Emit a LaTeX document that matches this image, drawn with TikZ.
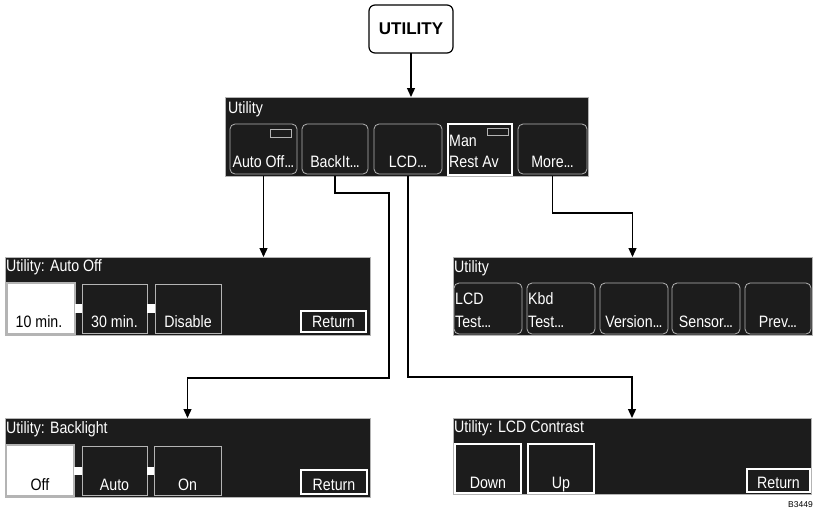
\documentclass[tikz,border=0pt]{standalone}
\usepackage{fontspec}
\setmainfont{Liberation Sans}
\newfontfamily\narrowfont[FakeStretch=0.86]{Liberation Sans}
\usetikzlibrary{arrows.meta}
\definecolor{panelbg}{HTML}{1C1C1C}
\definecolor{edgegray}{HTML}{B4B4B4}
\newcommand\bx[6]{\node[#1, anchor=north west, minimum width={(#5-#3)*1pt}, minimum height={(#6-#4)*1pt}] (#2) at (#3,#4) {};}
\newcommand\dd{.\kern-0.9pt.\kern-0.9pt.}
\tikzset{
  panelbox/.style={draw=edgegray, line width=0.8pt, fill=panelbg, rectangle, inner sep=0pt, outer sep=0pt},
  rbtn/.style={draw=edgegray, line width=0.8pt, fill=panelbg, rounded corners=5pt, rectangle, inner sep=0pt, outer sep=0pt},
  sbtn/.style={draw=edgegray, line width=0.8pt, fill=panelbg, rectangle, inner sep=0pt, outer sep=0pt},
  selbtn/.style={draw=edgegray, line width=1.2pt, fill=white, rectangle, inner sep=0pt, outer sep=0pt},
  wbtn/.style={draw=white, line width=2pt, fill=panelbg, rectangle, inner sep=0pt, outer sep=0pt},
  linkbox/.style={draw=none, fill=white, rectangle, inner sep=0pt, outer sep=0pt},
  indic/.style={draw=edgegray, line width=0.8pt, fill=panelbg, rectangle, inner sep=0pt, outer sep=0pt},
  keybox/.style={draw=black, line width=1.2pt, fill=white, rounded corners=6pt, rectangle, inner sep=0pt, outer sep=0pt},
  lbl/.style={text=white, font=\narrowfont\fontsize{16.5}{18}\selectfont, anchor=base, inner sep=0pt},
  lblw/.style={lbl, anchor=base west},
  dlbl/.style={lbl, text=black},
  conn/.style={draw=black, line width=1.3pt},
  arr/.style={conn, -{Triangle[length=9pt,width=8pt]}},
}
\begin{document}
\begin{tikzpicture}[x=1pt,y=-1pt]
\useasboundingbox (0,0) rectangle (817,509);
% key
\bx{keybox}{key}{369}{5}{453}{53}
\node[font=\bfseries\fontsize{17}{19}\selectfont, inner sep=0pt] (keytxt) at (key.center) {UTILITY};

% top menu
\bx{panelbox}{menu}{225}{97}{588}{176}
\node[lblw] (menut) at (228,113) {Utility};
\bx{rbtn}{b1}{230}{124}{297}{174}
\bx{rbtn}{b2}{302}{124}{368}{174}
\bx{rbtn}{b3}{374}{124}{442}{174}
\bx{wbtn}{b4}{448}{124}{512}{175}
\bx{rbtn}{b5}{518}{124}{587}{174}
\bx{indic}{i1}{270}{129}{291}{137}
\bx{indic}{i4}{487}{128}{508}{135}
\node[lbl] (b1t) at (263.5,167) {Auto Off\dd};
\node[lbl] (b2t) at (335,167) {BackIt\dd};
\node[lbl] (b3t) at (408,167) {LCD\dd};
\node[lblw] (b4a) at (449,146) {Man};
\node[lblw] (b4b) at (449,167) {Rest Av};
\node[lbl] (b5t) at (552.5,167) {More\dd};

% auto off panel
\bx{panelbox}{autooff}{5}{257}{370}{335}
\node[lblw] (aot) at (6,271) {Utility: Auto Off};
\bx{selbtn}{ao1}{7}{283}{75}{334}
\bx{sbtn}{ao2}{82}{284}{147}{333}
\bx{sbtn}{ao3}{155}{284}{221}{333}
\bx{linkbox}{aol1}{75}{304}{82}{313}
\bx{linkbox}{aol2}{147}{304}{155}{313}
\bx{wbtn}{aoret}{301}{311}{366}{332}
\node[dlbl] (ao1t) at (39,327) {10 min.};
\node[lbl] (ao2t) at (114.5,327) {30 min.};
\node[lbl] (ao3t) at (188,327) {Disable};
\node[lbl] (aorett) at (333.5,327) {Return};

% right utility panel
\bx{panelbox}{util}{453}{257}{812}{335}
\node[lblw] (utt) at (454,272) {Utility};
\bx{rbtn}{u1}{454}{283}{522}{334}
\bx{rbtn}{u2}{527}{283}{595}{334}
\bx{rbtn}{u3}{600}{283}{668}{334}
\bx{rbtn}{u4}{672}{283}{740}{334}
\bx{rbtn}{u5}{745}{283}{811}{334}
\node[lblw] (u1a) at (455,304) {LCD};
\node[lblw] (u1b) at (455,327) {Test\dd};
\node[lblw] (u2a) at (528,304) {Kbd};
\node[lblw] (u2b) at (528,327) {Test\dd};
\node[lbl] (u3t) at (634,327) {Version\dd};
\node[lbl] (u4t) at (706,327) {Sensor\dd};
\node[lbl] (u5t) at (778,327) {Prev\dd};

% backlight panel
\bx{panelbox}{backlight}{5}{418}{370}{497}
\node[lblw] (blt) at (6,433) {Utility: Backlight};
\bx{selbtn}{bl1}{6}{445}{74}{496}
\bx{sbtn}{bl2}{82}{446}{147}{495}
\bx{sbtn}{bl3}{154}{446}{221}{495}
\bx{linkbox}{bll1}{74}{467}{82}{475}
\bx{linkbox}{bll2}{147}{467}{154}{475}
\bx{wbtn}{blret}{301}{470}{367}{494}
\node[dlbl] (bl1t) at (40,490) {Off};
\node[lbl] (bl2t) at (114.5,490) {Auto};
\node[lbl] (bl3t) at (187.5,490) {On};
\node[lbl] (blrett) at (334,490) {Return};

% LCD contrast panel
\bx{panelbox}{contrast}{453}{418}{811}{494}
\node[lblw] (lct) at (454,432) {Utility: LCD Contrast};
\bx{wbtn}{lc1}{455}{444}{521}{493}
\bx{wbtn}{lc2}{528}{444}{594}{493}
\bx{wbtn}{lcret}{747}{469}{810}{492}
\node[lbl] (lc1t) at (488,488) {Down};
\node[lbl] (lc2t) at (561,488) {Up};
\node[lbl] (lcrett) at (778.5,488) {Return};

\node[font=\fontsize{8.5}{10}\selectfont, anchor=base east, inner sep=0pt] (code) at (813,507) {B3449};

% connectors
\coordinate (bk1) at (389,193);
\coordinate (bk2) at (389,378);
\coordinate (lcy) at (0,377);
\coordinate (moy) at (0,213);
\draw[arr] (key.south) -- (menu.north -| key.south);
\draw[arr] (b1 |- menu.south) -- (b1 |- autooff.north);
\draw[arr] (b2 |- menu.south) |- (bk1) -- (bk2) -| (backlight.north);
\draw[arr] (b3 |- menu.south) -- (b3 |- lcy) -| (contrast.north);
\draw[arr] (b5 |- menu.south) -- (b5 |- moy) -| (util.north);
\end{tikzpicture}
\end{document}
